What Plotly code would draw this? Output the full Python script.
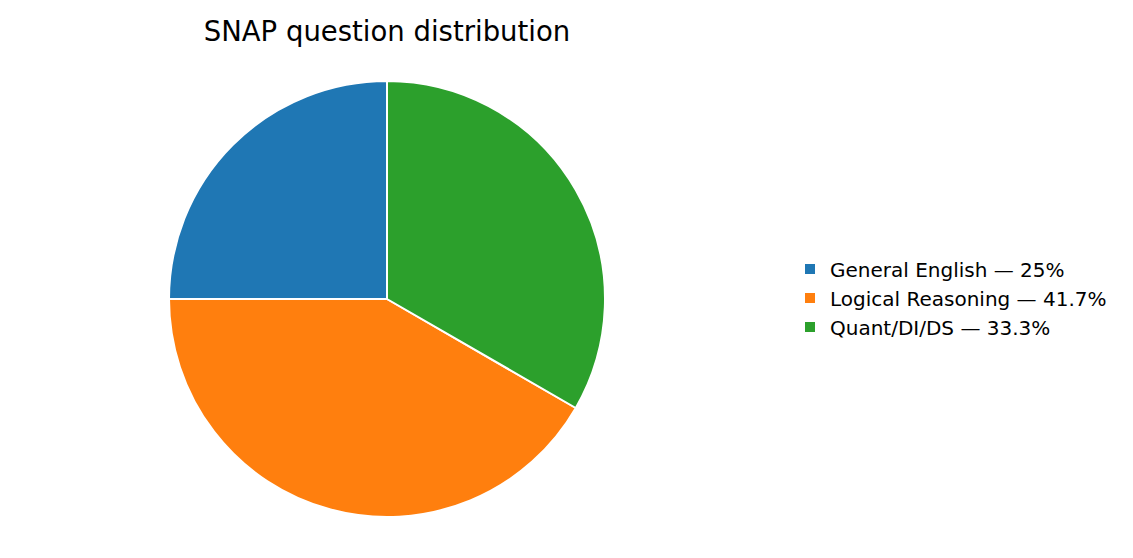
import plotly.graph_objects as go

# SNAP question counts per section
sections = ["General English", "Logical Reasoning", "Quant/DI/DS"]
questions = [15, 25, 20]
colors = ["#1f77b4", "#ff7f0e", "#2ca02c"]

total = sum(questions)
labels = []
for name, q in zip(sections, questions):
    pct = round(100 * q / total, 1)
    pct_txt = f"{pct:g}%"
    labels.append(f"{name} — {pct_txt}")

W, H = 1133, 558
OFF = 8  # page body margin

# plotly's counterclockwise pies start after the first slice,
# so rotate back by its angle to start the first slice at 12 o'clock
start_rot = -360 * questions[0] / total

fig = go.Figure()
fig.add_trace(
    go.Pie(
        labels=labels,
        values=questions,
        sort=False,
        direction="counterclockwise",
        rotation=start_rot,
        marker=dict(colors=colors, line=dict(color="white", width=2)),
        textinfo="none",
        hoverinfo="label",
        domain=dict(
            x=[(169 - OFF) / W, (605 - OFF) / W],
            y=[1 - (517 - OFF) / H, 1 - (81 - OFF) / H],
        ),
    )
)

fig.update_layout(
    width=W,
    height=H,
    margin=dict(l=0, r=0, t=0, b=0),
    paper_bgcolor="white",
    plot_bgcolor="white",
    font=dict(family="DejaVu Sans", size=20, color="black"),
    title=dict(
        text="SNAP question distribution",
        x=(387 - OFF) / W,
        xanchor="center",
        y=1 - 23 / H,
        yanchor="middle",
        font=dict(size=27.5, color="black"),
    ),
    legend=dict(
        x=(790 - OFF) / W,
        xanchor="left",
        y=1 - (298 - OFF) / H,
        yanchor="middle",
        font=dict(size=20),
        tracegroupgap=0,
    ),
)

fig.write_html("out.html")
